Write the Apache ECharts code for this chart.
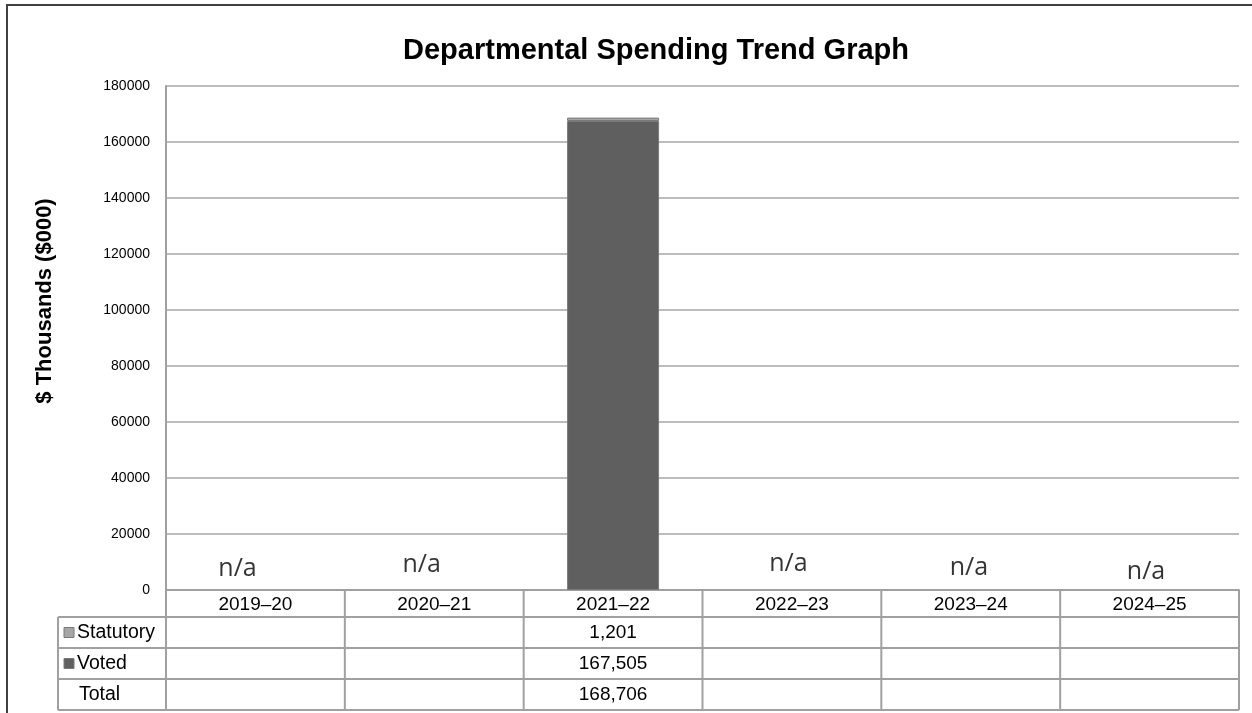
<!DOCTYPE html>
<html><head><meta charset="utf-8">
<script src="https://cdn.jsdelivr.net/npm/echarts@6/dist/echarts.min.js"></script>
<style>html,body{margin:0;padding:0;background:#fff}#c{width:1252px;height:713px}</style>
</head><body><div id="c"></div>
<script>
const categories = ['2019–20','2020–21','2021–22','2022–23','2023–24','2024–25'];
const statutory = [null, null, 1201, null, null, null];
const voted = [null, null, 167505, null, null, null];
const totals = [null, null, 168706, null, null, null];
const rowNames = ['Statutory', 'Voted', 'Total'];
const naX = [0.40, 1.43, 3.48, 4.49, 5.48];
const naY = [7500, 8900, 9300, 7900, 6400];
const chartTitle = 'Departmental Spending Trend Graph';
const yTitle = '$ Thousands ($000)';

const colVoted = '#5f5f5f', colStat = '#a6a6a6', lineCol = '#a0a0a0';
const FONT = 'Liberation Sans, Arial, sans-serif';

const chart = echarts.init(document.getElementById('c'), null, {renderer: 'canvas'});
chart.setOption({
  animation: false,
  backgroundColor: '#fff',
  title: {
    text: chartTitle, left: 651, top: 31, textAlign: 'center',
    textStyle: {fontFamily: FONT, fontSize: 29, fontWeight: 'bold', color: '#000'}
  },
  grid: {left: 166, right: 13, top: 86, bottom: 123},
  xAxis: [{
    type: 'category', data: categories,
    axisLine: {lineStyle: {color: lineCol, width: 2}},
    axisTick: {show: false},
    axisLabel: {fontFamily: FONT, fontSize: 19, color: '#000', margin: 5},
    splitLine: {show: false}
  }, {
    type: 'value', min: 0, max: 6, show: false
  }],
  yAxis: {
    type: 'value', min: 0, max: 180000, interval: 20000,
    axisLine: {show: true, lineStyle: {color: lineCol, width: 2}},
    axisTick: {show: false},
    axisLabel: {fontFamily: FONT, fontSize: 14, color: '#000', margin: 16,
      formatter: v => String(v)},
    splitLine: {lineStyle: {color: '#a6a6a6', width: 1.5}}
  },
  series: [{
    name: 'Voted', type: 'bar', stack: 's', data: voted, barWidth: 92,
    itemStyle: {color: colVoted, borderColor: '#7a7a7a', borderWidth: 1}
  }, {
    name: 'Statutory', type: 'bar', stack: 's', data: statutory, barWidth: 92,
    itemStyle: {color: colStat, borderColor: '#7a7a7a', borderWidth: 1}
  }, {
    name: 'na', type: 'scatter', xAxisIndex: 1, symbolSize: 0,
    data: naX.map((x, i) => [x, naY[i]]),
    label: {show: true, position: 'inside', formatter: 'n/a',
      fontFamily: 'Open Sans, sans-serif', fontSize: 25, color: '#000'}
  }]
});

// Data table under the axis
const c0 = chart.convertToPixel({xAxisIndex: 0}, categories[0]);
const c1 = chart.convertToPixel({xAxisIndex: 0}, categories[1]);
const band = c1 - c0;
const xStart = c0 - band / 2;
const xEnd = xStart + band * categories.length;
const yBase = chart.convertToPixel({yAxisIndex: 0}, 0);
const headerH = 27, rowH = 31, leftX = 58;
const tableTop = yBase + headerH;
const tableBottom = tableTop + rowH * rowNames.length;
const g = [];
const ls = {stroke: lineCol, lineWidth: 2};
for (let r = 0; r <= rowNames.length; r++) {
  const y = tableTop + r * rowH;
  g.push({type: 'line', shape: {x1: leftX, y1: y, x2: xEnd, y2: y}, style: ls});
}
g.push({type: 'line', shape: {x1: leftX, y1: tableTop, x2: leftX, y2: tableBottom}, style: ls});
for (let i = 0; i <= categories.length; i++) {
  const x = xStart + i * band;
  g.push({type: 'line', shape: {x1: x, y1: yBase, x2: x, y2: tableBottom}, style: ls});
}
const rowData = [statutory, voted, totals];
const keyCols = [colStat, colVoted, null];
rowNames.forEach((nm, r) => {
  const yc = tableTop + r * rowH + rowH / 2;
  if (keyCols[r]) {
    g.push({type: 'rect', shape: {x: 64, y: yc - 5, width: 10, height: 10},
      style: {fill: keyCols[r], stroke: '#7a7a7a', lineWidth: 1}});
  }
  g.push({type: 'text', x: keyCols[r] ? 77 : 79, y: yc,
    style: {text: nm, font: '19.5px ' + FONT, fill: '#000', textVerticalAlign: 'middle', verticalAlign: 'middle'}});
  rowData[r].forEach((v, i) => {
    if (v == null) return;
    g.push({type: 'text', x: xStart + (i + 0.5) * band, y: yc,
      style: {text: v.toLocaleString('en-US'), font: '19px ' + FONT, fill: '#000',
        align: 'center', textAlign: 'center', verticalAlign: 'middle', textVerticalAlign: 'middle'}});
  });
});
// y-axis title
g.push({type: 'text', x: 45, y: 301, rotation: Math.PI / 2,
  style: {text: yTitle, font: 'bold 22px ' + FONT, fill: '#000',
    align: 'center', textAlign: 'center', verticalAlign: 'middle', textVerticalAlign: 'middle'}});
// outer chart frame
g.push({type: 'polyline', shape: {points: [[7, 713], [7, 5], [1252, 5]]},
  style: {stroke: '#404040', lineWidth: 2, fill: null}});
chart.setOption({graphic: g});
</script>
</body></html>
